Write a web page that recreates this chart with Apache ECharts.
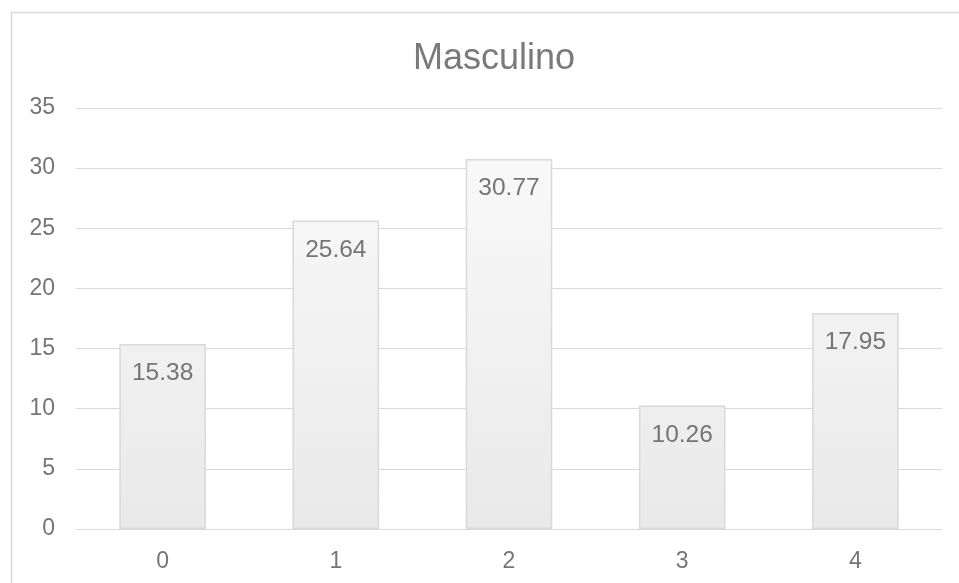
<!DOCTYPE html>
<html>
<head>
<meta charset="utf-8">
<script src="https://cdn.jsdelivr.net/npm/echarts@6/dist/echarts.min.js"></script>
<style>
html,body{margin:0;padding:0;background:#fff;}
#c{width:959px;height:583px;}
</style>
</head>
<body>
<div id="c"></div>
<script>
const titleText = "Masculino";
const categories = ["0", "1", "2", "3", "4"];
const values = [15.38, 25.64, 30.77, 10.26, 17.95];
const yTicks = { min: 0, max: 35, interval: 5 };

const chart = echarts.init(document.getElementById('c'), null, { renderer: 'canvas' });
const font = 'Liberation Sans, Arial, sans-serif';
const gridTop = 108, gridBottom = 54, H = 583;
chart.setOption({
  animation: false,
  backgroundColor: '#fff',
  graphic: [{
    type: 'rect',
    shape: { x: 11.5, y: 12.5, width: 966, height: 600 },
    style: { fill: 'none', stroke: '#d9d9d9', lineWidth: 1.5 },
    silent: true
  }],
  title: {
    text: titleText,
    left: 494, top: 41, textAlign: 'center', padding: 0,
    textStyle: { fontFamily: font, fontSize: 36, fontWeight: 'normal', color: '#7a7a7a' }
  },
  grid: { left: 76, right: 17, top: gridTop, bottom: gridBottom, containLabel: false },
  xAxis: {
    type: 'category',
    data: categories,
    axisLine: { show: true, lineStyle: { color: '#d9d9d9', width: 1 } },
    axisTick: { show: false },
    axisLabel: { fontFamily: font, fontSize: 23, color: '#757575', margin: 21 }
  },
  yAxis: {
    type: 'value',
    min: yTicks.min, max: yTicks.max, interval: yTicks.interval,
    axisLine: { show: false },
    axisTick: { show: false },
    splitLine: { lineStyle: { color: '#d9d9d9', width: 1 } },
    axisLabel: { fontFamily: font, fontSize: 23, color: '#757575', margin: 21 }
  },
  series: [{
    type: 'bar',
    data: values,
    barWidth: '50%',
    itemStyle: {
      color: new echarts.graphic.LinearGradient(0, gridTop, 0, H - gridBottom, [
        { offset: 0, color: '#fbfbfb' },
        { offset: 1, color: '#e9e9e9' }
      ], true),
      borderColor: '#d9d9d9',
      borderWidth: 1.5
    },
    label: {
      show: true,
      position: 'insideTop',
      distance: 17,
      fontFamily: font,
      fontSize: 24.5,
      color: '#757575',
      formatter: p => p.value.toFixed(2)
    }
  }]
});
</script>
</body>
</html>
